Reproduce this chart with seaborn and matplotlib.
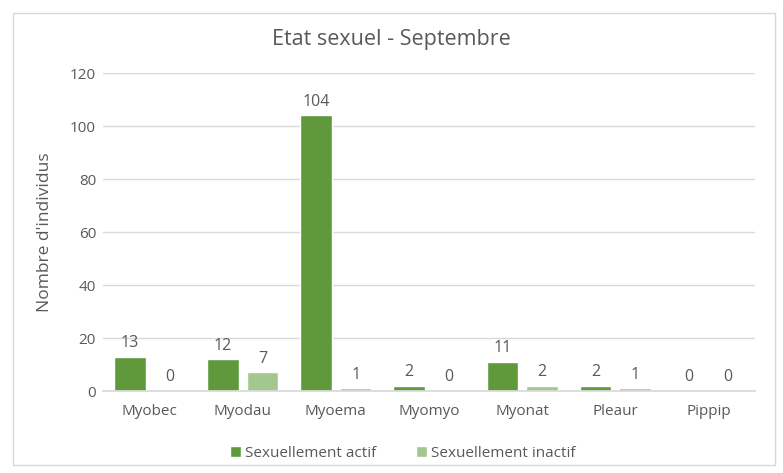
import matplotlib
matplotlib.use("Agg")
import matplotlib.pyplot as plt
import seaborn as sns
import pandas as pd
from matplotlib.patches import Rectangle

categories = ["Myobec", "Myodau", "Myoema", "Myomyo", "Myonat", "Pleaur", "Pippip"]
actif = [13, 12, 104, 2, 11, 2, 0]
inactif = [0, 7, 1, 0, 2, 1, 0]
series_names = ["Sexuellement actif", "Sexuellement inactif"]
colors = ["#5F993C", "#A3C88F"]

df = pd.DataFrame({
    "Espece": categories * 2,
    "Valeur": actif + inactif,
    "Serie": [series_names[0]] * len(categories) + [series_names[1]] * len(categories),
})

sns.set_theme(style="white")
plt.rcParams["font.family"] = ["Open Sans", "DejaVu Sans"]
txt = "#595959"

fig = plt.figure(figsize=(7.83, 4.73), dpi=100)
ax = fig.add_axes([103 / 783, 1 - 391 / 473, 652 / 783, 318 / 473])

sns.barplot(data=df, x="Espece", y="Valeur", hue="Serie", palette=colors,
            saturation=1, width=0.85, gap=0.2, ax=ax, legend=True)

ax.set_ylim(0, 120)
ax.set_yticks(range(0, 121, 20))
ax.yaxis.grid(True, color="#D9D9D9", linewidth=1)
ax.set_axisbelow(True)
for s in ["top", "right", "left"]:
    ax.spines[s].set_visible(False)
ax.spines["bottom"].set_color("#D9D9D9")
ax.tick_params(axis="x", length=0, labelsize=11, colors=txt, pad=9)
ax.tick_params(axis="y", length=0, labelsize=11, colors=txt, pad=5)
ax.set_xlabel("")
ax.set_ylabel("Nombre d'individus", fontsize=12.5, color=txt, labelpad=12)

for cont in ax.containers:
    ax.bar_label(cont, fmt="%d", padding=4, fontsize=11.5, color=txt)

ax.legend(loc="upper center", bbox_to_anchor=(0.46, -0.13), ncol=2, frameon=False,
          fontsize=11, labelcolor=txt, handlelength=0.7, handleheight=0.7,
          handletextpad=0.3, columnspacing=2.6)

fig.text(0.5, 1 - 40 / 473, "Etat sexuel - Septembre", ha="center", va="center",
         fontsize=15.5, color=txt)

fig.patches.append(Rectangle((13 / 783, 1 - 465 / 473), 762 / 783, 452 / 473,
                             transform=fig.transFigure, fill=False,
                             edgecolor="#D9D9D9", linewidth=1))

fig.savefig("out.png", dpi=100)
